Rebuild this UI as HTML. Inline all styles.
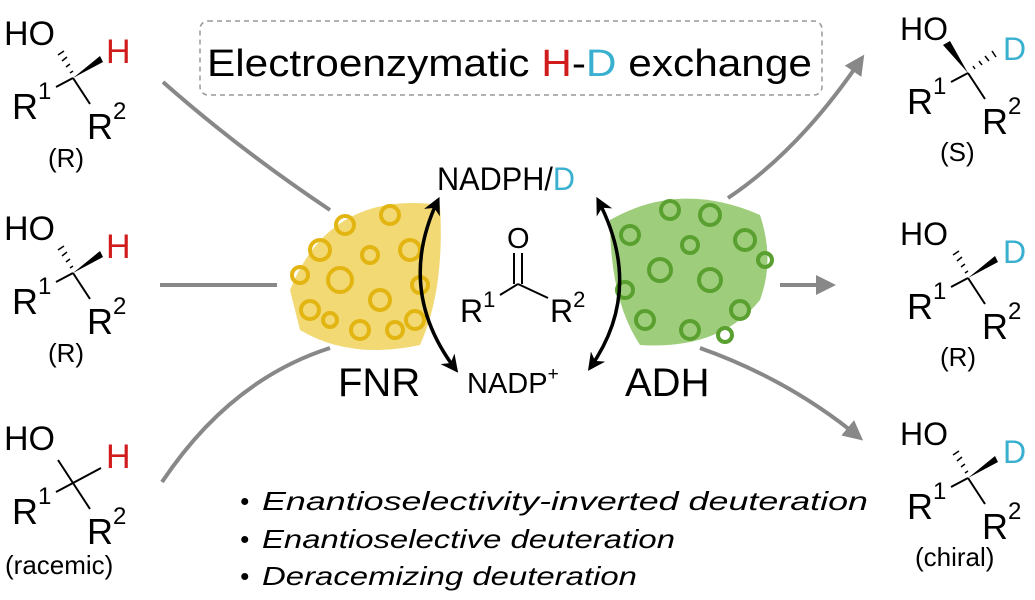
<!DOCTYPE html>
<html><head><meta charset="utf-8"><style>
html,body{margin:0;padding:0;background:#fff;}
svg{display:block;font-family:"Liberation Sans",Arial,sans-serif;}
</style></head><body>
<svg width="1035" height="600" viewBox="0 0 1035 600" xmlns="http://www.w3.org/2000/svg">
<defs>
<marker id="ga" viewBox="0 0 10 10" refX="8" refY="5" markerWidth="5" markerHeight="5" orient="auto"><path d="M0,0 L10,5 L0,10 z" fill="#888"/></marker>
<marker id="ka" viewBox="0 0 10 10" refX="8" refY="5" markerWidth="5" markerHeight="5" orient="auto-start-reverse"><path d="M0,0 L10,5 L0,10 L3,5 z" fill="#000"/></marker>
<g id="bonds">
<line x1="73" y1="78" x2="56" y2="87" stroke="#000" stroke-width="2"/>
<line x1="73" y1="78" x2="90" y2="104" stroke="#000" stroke-width="2"/>
</g>
</defs>

<rect x="200" y="21" width="622" height="74" rx="8" fill="none" stroke="#999" stroke-width="1.5" stroke-dasharray="5,4"/>
<text x="207" y="76" font-size="38" textLength="605" lengthAdjust="spacingAndGlyphs">Electroenzymatic <tspan fill="#d01c1c">H</tspan>-<tspan fill="#3ab0d0">D</tspan> exchange</text>

<path d="M163,82 Q240,150 330,210" fill="none" stroke="#888" stroke-width="4"/>
<line x1="160" y1="285" x2="277" y2="285" stroke="#888" stroke-width="4"/>
<path d="M162,482 Q230,380 330,348" fill="none" stroke="#888" stroke-width="4"/>
<path d="M728,198 Q800,150 862,58" fill="none" stroke="#888" stroke-width="4" marker-end="url(#ga)"/>
<line x1="780" y1="285" x2="832" y2="285" stroke="#888" stroke-width="4" marker-end="url(#ga)"/>
<path d="M700,348 Q790,380 860,438" fill="none" stroke="#888" stroke-width="4" marker-end="url(#ga)"/>

<!-- proteins -->
<g fill="none" stroke="#e2b512" stroke-width="4">
<path d="M290,290 Q330,190 440,205 Q445,290 420,345 Q350,360 300,330 Z" fill="#efcf50" stroke="none" opacity="0.8"/>
<circle cx="320" cy="250" r="10"/><circle cx="345" cy="225" r="9"/><circle cx="390" cy="215" r="9"/><circle cx="410" cy="250" r="10"/><circle cx="340" cy="280" r="12"/><circle cx="380" cy="300" r="10"/><circle cx="310" cy="310" r="9"/><circle cx="360" cy="330" r="9"/><circle cx="415" cy="320" r="9"/><circle cx="300" cy="275" r="8"/><circle cx="370" cy="255" r="8"/><circle cx="395" cy="330" r="8"/><circle cx="330" cy="320" r="7"/><circle cx="420" cy="285" r="8"/>
</g>
<g fill="none" stroke="#5aa030" stroke-width="4">
<path d="M610,220 Q680,180 760,215 Q775,260 760,300 Q720,350 640,345 Q610,300 610,220 Z" fill="#86c25a" stroke="none" opacity="0.8"/>
<circle cx="630" cy="235" r="9"/><circle cx="670" cy="210" r="9"/><circle cx="710" cy="215" r="10"/><circle cx="745" cy="240" r="10"/><circle cx="660" cy="270" r="11"/><circle cx="710" cy="280" r="11"/><circle cx="645" cy="320" r="9"/><circle cx="690" cy="330" r="9"/><circle cx="740" cy="310" r="9"/><circle cx="765" cy="260" r="7"/><circle cx="690" cy="245" r="8"/><circle cx="625" cy="290" r="8"/><circle cx="725" cy="335" r="7"/>
</g>

<path d="M438,200 Q395,290 456,370" fill="none" stroke="#000" stroke-width="3.5" marker-start="url(#ka)" marker-end="url(#ka)"/>
<path d="M598,200 Q645,290 590,368" fill="none" stroke="#000" stroke-width="3.5" marker-start="url(#ka)" marker-end="url(#ka)"/>

<text x="437" y="190" font-size="32" textLength="138" lengthAdjust="spacingAndGlyphs">NADPH/<tspan fill="#3ab0d0">D</tspan></text>
<text x="467" y="393" font-size="29">NADP<tspan font-size="19" dy="-13">+</tspan></text>
<text x="338" y="396" font-size="40">FNR</text>
<text x="625" y="396" font-size="40">ADH</text>
<text x="507" y="248" font-size="29">O</text>
<line x1="514" y1="253" x2="514" y2="284" stroke="#000" stroke-width="2"/>
<line x1="522" y1="253" x2="522" y2="284" stroke="#000" stroke-width="2"/>
<line x1="518" y1="284" x2="500" y2="295" stroke="#000" stroke-width="2"/>
<line x1="518" y1="284" x2="548" y2="298" stroke="#000" stroke-width="2"/>
<text x="460" y="322" font-size="32">R<tspan font-size="22" dy="-15">1</tspan></text>
<text x="550" y="322" font-size="32">R<tspan font-size="22" dy="-15">2</tspan></text>

<g font-size="26" font-style="italic">
<text x="240" y="510">•</text><text x="262" y="510" textLength="606" lengthAdjust="spacingAndGlyphs">Enantioselectivity-inverted deuteration</text>
<text x="240" y="548">•</text><text x="262" y="548" textLength="413" lengthAdjust="spacingAndGlyphs">Enantioselective deuteration</text>
<text x="240" y="585">•</text><text x="262" y="585" textLength="375" lengthAdjust="spacingAndGlyphs">Deracemizing deuteration</text>
</g>

<!-- left molecules -->
<g>
<text x="4" y="45" font-size="34">HO</text>
<text x="106" y="63" font-size="34" fill="#d01c1c">H</text>
<g stroke="#000" stroke-width="1.5"><line x1="70" y1="73" x2="73" y2="71"/><line x1="66" y1="67" x2="70" y2="64"/><line x1="62" y1="61" x2="67" y2="57"/><line x1="58" y1="55" x2="64" y2="51"/></g>
<path d="M73,78 L100,56 L103,62 Z" fill="#000"/>
<use href="#bonds"/>
<text x="12" y="119" font-size="36">R<tspan font-size="24" dy="-20">1</tspan></text>
<text x="87" y="139" font-size="36">R<tspan font-size="24" dy="-20">2</tspan></text>
<text x="48" y="167" font-size="26">(R)</text>
</g>
<g transform="translate(0,195)">
<text x="4" y="45" font-size="34">HO</text>
<text x="106" y="63" font-size="34" fill="#d01c1c">H</text>
<g stroke="#000" stroke-width="1.5"><line x1="70" y1="73" x2="73" y2="71"/><line x1="66" y1="67" x2="70" y2="64"/><line x1="62" y1="61" x2="67" y2="57"/><line x1="58" y1="55" x2="64" y2="51"/></g>
<path d="M73,78 L100,56 L103,62 Z" fill="#000"/>
<use href="#bonds"/>
<text x="12" y="119" font-size="36">R<tspan font-size="24" dy="-20">1</tspan></text>
<text x="87" y="139" font-size="36">R<tspan font-size="24" dy="-20">2</tspan></text>
<text x="48" y="167" font-size="26">(R)</text>
</g>
<g transform="translate(0,405)">
<text x="4" y="45" font-size="34">HO</text>
<text x="106" y="63" font-size="34" fill="#d01c1c">H</text>
<line x1="73" y1="78" x2="58" y2="55" stroke="#000" stroke-width="2"/>
<line x1="73" y1="78" x2="101" y2="63" stroke="#000" stroke-width="2"/>
<use href="#bonds"/>
<text x="12" y="119" font-size="36">R<tspan font-size="24" dy="-20">1</tspan></text>
<text x="87" y="139" font-size="36">R<tspan font-size="24" dy="-20">2</tspan></text>
<text x="5" y="169" font-size="26">(racemic)</text>
</g>

<!-- right molecules -->
<g transform="translate(895,-5)">
<text x="5" y="45" font-size="32">HO</text>
<text x="108" y="65" font-size="32" fill="#3ab0d0">D</text>
<path d="M73,78 L48,50 L55,46 Z" fill="#000"/>
<g stroke="#000" stroke-width="1.5"><line x1="80" y1="74" x2="78" y2="71"/><line x1="87" y1="70" x2="84" y2="66"/><line x1="94" y1="66" x2="90" y2="61"/><line x1="101" y1="62" x2="97" y2="56"/></g>
<use href="#bonds"/>
<text x="12" y="119" font-size="36">R<tspan font-size="24" dy="-20">1</tspan></text>
<text x="87" y="139" font-size="36">R<tspan font-size="24" dy="-20">2</tspan></text>
<text x="45" y="166" font-size="26">(S)</text>
</g>
<g transform="translate(895,200)">
<text x="5" y="45" font-size="32">HO</text>
<text x="108" y="63" font-size="32" fill="#3ab0d0">D</text>
<g stroke="#000" stroke-width="1.5"><line x1="70" y1="73" x2="73" y2="71"/><line x1="66" y1="67" x2="70" y2="64"/><line x1="62" y1="61" x2="67" y2="57"/><line x1="58" y1="55" x2="64" y2="51"/></g>
<path d="M73,78 L100,56 L103,62 Z" fill="#000"/>
<use href="#bonds"/>
<text x="12" y="119" font-size="36">R<tspan font-size="24" dy="-20">1</tspan></text>
<text x="87" y="139" font-size="36">R<tspan font-size="24" dy="-20">2</tspan></text>
<text x="45" y="166" font-size="26">(R)</text>
</g>
<g transform="translate(895,400)">
<text x="5" y="45" font-size="32">HO</text>
<text x="108" y="63" font-size="32" fill="#3ab0d0">D</text>
<g stroke="#000" stroke-width="1.5"><line x1="70" y1="73" x2="73" y2="71"/><line x1="66" y1="67" x2="70" y2="64"/><line x1="62" y1="61" x2="67" y2="57"/><line x1="58" y1="55" x2="64" y2="51"/></g>
<path d="M73,78 L100,56 L103,62 Z" fill="#000"/>
<use href="#bonds"/>
<text x="12" y="119" font-size="36">R<tspan font-size="24" dy="-20">1</tspan></text>
<text x="87" y="139" font-size="36">R<tspan font-size="24" dy="-20">2</tspan></text>
<text x="20" y="166" font-size="26">(chiral)</text>
</g>
</svg>
</body></html>
